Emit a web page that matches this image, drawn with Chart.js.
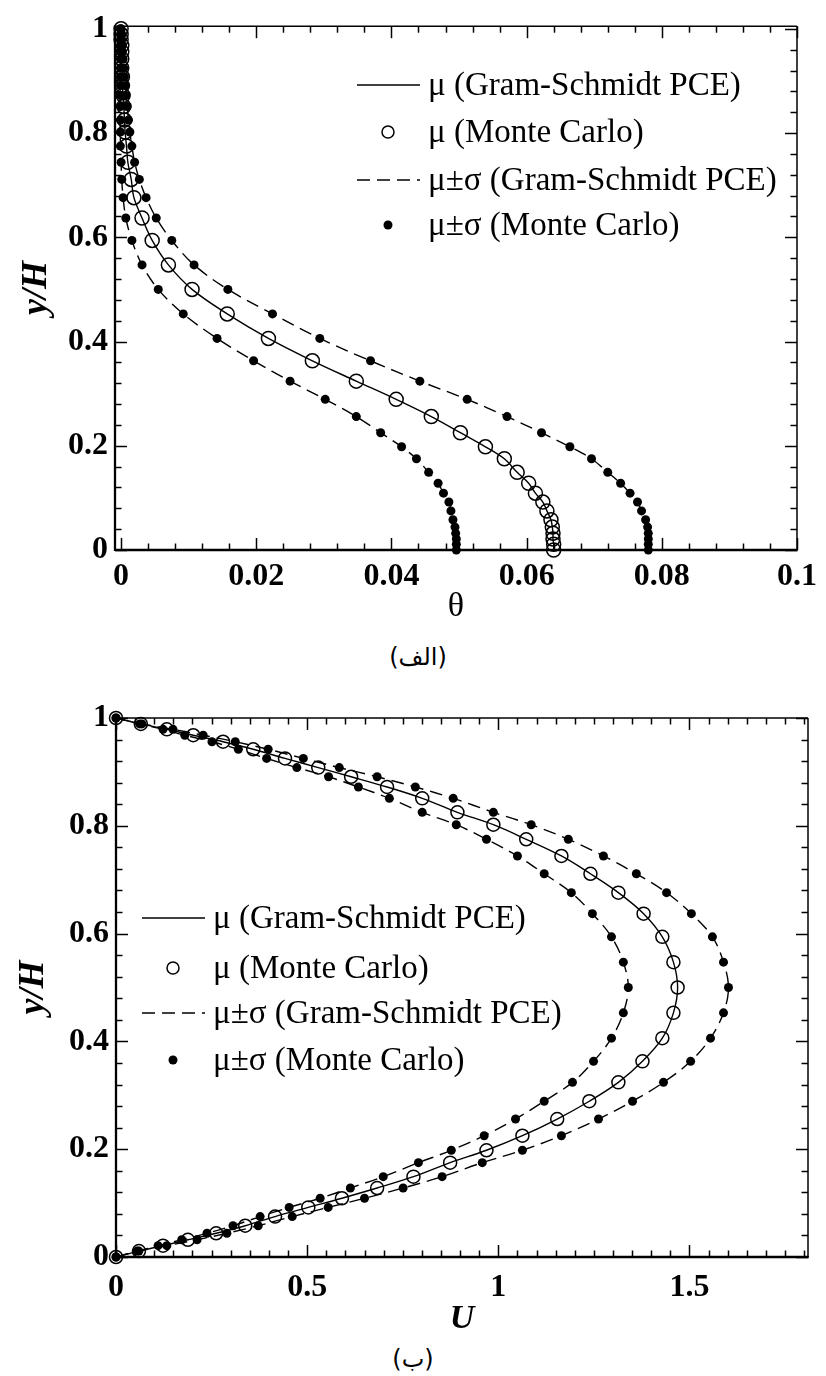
<!DOCTYPE html>
<html><head><meta charset="utf-8">
<script src="https://cdn.jsdelivr.net/npm/chart.js@4.4.1/dist/chart.umd.min.js"></script>
<style>
html,body{margin:0;padding:0;background:#fff;}
body{width:826px;height:1376px;position:relative;overflow:hidden;}
.wrap{position:absolute;left:0;width:826px;}
canvas{display:block;}
.cap{position:absolute;font-family:'DejaVu Sans';font-size:24px;color:#000;transform:translate(-50%,-50%);white-space:nowrap;direction:rtl;}
</style></head><body>
<div class="wrap" style="top:0;height:640px"><canvas id="c1" width="826" height="640"></canvas></div>
<div class="wrap" style="top:680px;height:660px"><canvas id="c2" width="826" height="660"></canvas></div>
<div class="cap" style="left:418px;top:657px">(الف)</div>
<div class="cap" style="left:413px;top:1359px">(ب)</div>
<script>
// ---------- data ----------
const yGrid = [0, 0.011, 0.021, 0.032, 0.044, 0.058, 0.075, 0.092, 0.109, 0.128, 0.149, 0.175, 0.198, 0.225, 0.256, 0.289, 0.324, 0.363, 0.406, 0.453, 0.5,
  0.547, 0.594, 0.637, 0.676, 0.711, 0.744, 0.775, 0.802, 0.825, 0.851, 0.872, 0.891, 0.908, 0.925, 0.942, 0.956, 0.968, 0.979, 0.989, 1];

// (a) temperature theta
const thetaMean = [0.0640, 0.0640, 0.0639, 0.0639, 0.0638, 0.0636, 0.0630, 0.0624, 0.0613, 0.0603, 0.0586, 0.0567, 0.0539, 0.0502, 0.0459, 0.0407, 0.0348, 0.0283, 0.0218, 0.0157, 0.0105,
  0.0070, 0.0046, 0.0031, 0.0019, 0.0015, 0.0010, 0.0008, 0.0006, 0.0005, 0.0004, 0.0003, 0.0002, 0.0002, 0.0001, 0.0001, 0.0001, 0.0001, 0.0000, 0.0000, 0.0000];
const thetaUpper = [0.0780, 0.0780, 0.0780, 0.0780, 0.0779, 0.0776, 0.0770, 0.0764, 0.0753, 0.0739, 0.0720, 0.0696, 0.0664, 0.0622, 0.0571, 0.0512, 0.0442, 0.0369, 0.0294, 0.0224, 0.0158,
  0.0108, 0.0075, 0.0052, 0.0037, 0.0027, 0.0020, 0.0016, 0.0013, 0.0011, 0.0009, 0.0007, 0.0006, 0.0005, 0.0004, 0.0003, 0.0002, 0.0002, 0.0001, 0.0001, 0.0000];
const thetaLower = [0.0496, 0.0496, 0.0496, 0.0495, 0.0494, 0.0491, 0.0488, 0.0485, 0.0477, 0.0469, 0.0455, 0.0437, 0.0415, 0.0384, 0.0348, 0.0302, 0.0250, 0.0196, 0.0142, 0.0092, 0.0055,
  0.0031, 0.0016, 0.0007, 0.0003, 0.0001, 0.0000, -0.0001, -0.0001, -0.0001, -0.0001, -0.0001, -0.0001, -0.0001, -0.0001, -0.0001, -0.0001, -0.0001, -0.0001, -0.0001, -0.0001];

// (b) velocity U
const uMean = [0, 0.060, 0.123, 0.188, 0.262, 0.338, 0.416, 0.503, 0.591, 0.683, 0.778, 0.874, 0.969, 1.063, 1.154, 1.238, 1.314, 1.377, 1.429, 1.458, 1.469,
  1.458, 1.429, 1.380, 1.314, 1.241, 1.165, 1.073, 0.987, 0.893, 0.801, 0.709, 0.615, 0.529, 0.442, 0.359, 0.280, 0.202, 0.133, 0.065, 0];
const uUpper = [0, 0.060, 0.133, 0.212, 0.290, 0.372, 0.461, 0.555, 0.650, 0.751, 0.853, 0.958, 1.063, 1.165, 1.262, 1.351, 1.432, 1.503, 1.555, 1.589, 1.602,
  1.589, 1.560, 1.505, 1.440, 1.361, 1.275, 1.183, 1.086, 0.987, 0.882, 0.783, 0.683, 0.584, 0.490, 0.398, 0.312, 0.228, 0.149, 0.068, 0];
const uLower = [0, 0.055, 0.110, 0.172, 0.238, 0.306, 0.377, 0.453, 0.534, 0.613, 0.699, 0.791, 0.877, 0.963, 1.045, 1.120, 1.194, 1.249, 1.296, 1.327, 1.340,
  1.327, 1.296, 1.246, 1.191, 1.120, 1.050, 0.969, 0.890, 0.801, 0.715, 0.634, 0.556, 0.473, 0.394, 0.320, 0.251, 0.180, 0.123, 0.062, 0];

// tick labels
const thetaTickValues = [0, 0.02, 0.04, 0.06, 0.08, 0.1];
const thetaTickLabels = ['0', '0.02', '0.04', '0.06', '0.08', '0.1'];
const uTickValues = [0, 0.5, 1, 1.5];
const uTickLabels = ['0', '0.5', '1', '1.5'];
const yTickValues = [0, 0.2, 0.4, 0.6, 0.8, 1];
const yTickLabels = ['0', '0.2', '0.4', '0.6', '0.8', '1'];
const legendLabels = ['μ (Gram-Schmidt PCE)', 'μ (Monte Carlo)', 'μ±σ (Gram-Schmidt PCE)', 'μ±σ (Monte Carlo)'];

// ---------- helpers ----------
const SERIF = "'Liberation Serif', 'Times New Roman', serif";
const toXY = (xs, ys) => xs.map((v, i) => ({x: v, y: ys[i]}));
const onStep = (v, s) => { const r = v / s; return Math.abs(r - Math.round(r)) < 1e-6; };
function labelFor(vals, labels) {
  return function (v) {
    for (let i = 0; i < vals.length; i++) if (Math.abs(vals[i] - v) < 1e-7) return labels[i];
    return '';
  };
}
// tick positions every `step` from `from` to `to` (minor ticks; labels only at the major values)
function stepTicks(from, to, step) {
  return function (s) {
    const n = Math.round((to - from) / step);
    const t = [];
    for (let i = 0; i <= n; i++) t.push({value: +(from + i * step).toFixed(6)});
    s.ticks = t;
  };
}

const frameTicks = {
  id: 'frameTicks',
  afterDatasetsDraw(chart, args, o) {
    const {ctx, chartArea: a} = chart;
    const x = chart.scales.x, y = chart.scales.y;
    ctx.save();
    ctx.strokeStyle = '#000';
    ctx.lineWidth = 1.5;
    const seg = (x1, y1, x2, y2) => { ctx.beginPath(); ctx.moveTo(x1, y1); ctx.lineTo(x2, y2); ctx.stroke(); };
    x.ticks.forEach(t => {
      const v = t.value;
      if (!onStep(v, o.xMinor)) return;
      const len = onStep(v, o.xMajor) ? 12 : 6.5;
      const p = Math.round(x.getPixelForValue(v)) + 0.5;
      seg(p, a.bottom, p, a.bottom - len);
      seg(p, a.top, p, a.top + len);
    });
    y.ticks.forEach(t => {
      const v = t.value;
      if (!onStep(v, o.yMinor)) return;
      const len = onStep(v, o.yMajor) ? 12 : 6.5;
      const p = Math.round(y.getPixelForValue(v)) + 0.5;
      seg(a.left, p, a.left + len, p);
      seg(a.right, p, a.right - len, p);
    });
    ctx.lineWidth = 1.5;
    seg(a.left, a.top, a.right, a.top);
    seg(a.right, a.top, a.right, a.bottom);
    ctx.lineWidth = 2.3;
    seg(a.left, a.top - 0.8, a.left, a.bottom + 1);
    seg(a.left, a.bottom, a.right + 0.8, a.bottom);
    ctx.restore();
  }
};

const customLegend = {
  id: 'customLegend',
  afterDatasetsDraw(chart, args, o) {
    const ctx = chart.ctx;
    ctx.save();
    ctx.strokeStyle = '#000';
    ctx.fillStyle = '#000';
    o.rows.forEach((ry, i) => {
      ctx.lineWidth = 1.4;
      if (i === 0 || i === 2) {
        ctx.setLineDash(i === 2 ? [13, 7] : []);
        ctx.beginPath(); ctx.moveTo(o.x1, ry); ctx.lineTo(o.x2, ry); ctx.stroke();
        ctx.setLineDash([]);
      } else if (i === 1) {
        ctx.lineWidth = 1.5;
        ctx.beginPath(); ctx.arc(o.mx, ry, 6, 0, Math.PI * 2); ctx.stroke();
      } else {
        ctx.beginPath(); ctx.arc(o.mx, ry, 4.5, 0, Math.PI * 2); ctx.fill();
      }
      ctx.font = o.font;
      ctx.textAlign = 'left';
      ctx.textBaseline = 'middle';
      ctx.fillText(legendLabels[i], o.tx, ry + 1);
    });
    ctx.restore();
  }
};

function makeDatasets(mean, up, low, circleR) {
  const line = {showLine: true, pointRadius: 0, borderColor: '#000', borderWidth: 1.4, tension: 0.35, clip: false, fill: false};
  return [
    Object.assign({}, line, {label: legendLabels[0], data: toXY(mean, yGrid)}),
    Object.assign({}, line, {label: legendLabels[2], data: toXY(up, yGrid), borderDash: [13, 7]}),
    Object.assign({}, line, {label: legendLabels[2], data: toXY(low, yGrid), borderDash: [13, 7]}),
    {label: legendLabels[1], data: toXY(mean, yGrid), showLine: false, pointStyle: 'circle', pointRadius: circleR,
      pointBorderWidth: 1.5, pointBorderColor: '#000', pointBackgroundColor: 'rgba(0,0,0,0)', clip: false},
    {label: legendLabels[3], data: toXY(up, yGrid), showLine: false, pointStyle: 'circle', pointRadius: 4.5,
      pointBorderWidth: 0, pointBackgroundColor: '#000', clip: false},
    {label: legendLabels[3], data: toXY(low, yGrid), showLine: false, pointStyle: 'circle', pointRadius: 4.5,
      pointBorderWidth: 0, pointBackgroundColor: '#000', clip: false}
  ];
}

function makeChart(id, cfg) {
  const tickFont = {family: SERIF, size: 32, weight: 'bold'};
  return new Chart(document.getElementById(id), {
    type: 'scatter',
    data: {datasets: makeDatasets(cfg.mean, cfg.up, cfg.low, cfg.circleR)},
    options: {
      responsive: false, animation: false, events: [],
      layout: {padding: cfg.pad},
      plugins: {legend: {display: false}, tooltip: {enabled: false},
        frameTicks: {xMinor: cfg.xStep, xMajor: cfg.xMajor, yMinor: 0.04, yMajor: 0.2},
        customLegend: cfg.legend},
      scales: {
        x: {type: 'linear', position: 'bottom', min: cfg.xMin, max: cfg.xMax,
          grid: {display: false, drawTicks: false}, border: {display: false},
          ticks: {autoSkip: false, maxRotation: 0, minRotation: 0, padding: cfg.xPad, color: '#000', font: tickFont,
            callback: labelFor(cfg.xVals, cfg.xLabels)},
          afterBuildTicks: stepTicks(0, cfg.xTickEnd, cfg.xStep),
          title: {display: true, text: cfg.xTitle, color: '#000', font: cfg.xTitleFont, padding: {top: 0, bottom: cfg.xTitlePad}},
          afterFit(s) { s.height = cfg.xH; }},
        y: {type: 'linear', position: 'left', min: 0, max: cfg.yMax,
          grid: {display: false, drawTicks: false}, border: {display: false},
          ticks: {autoSkip: false, padding: 7, color: '#000', font: tickFont,
            callback: labelFor(yTickValues, yTickLabels)},
          afterBuildTicks: stepTicks(0, 1, 0.04),
          title: {display: true, text: 'y/H', color: '#000', font: {family: SERIF, size: 36, style: 'italic', weight: 'bold'}, padding: {top: cfg.yTitlePad, bottom: 0}},
          afterFit(s) { s.width = cfg.yW; }}
      }
    },
    plugins: [frameTicks, customLegend]
  });
}

makeChart('c1', {
  mean: thetaMean, up: thetaUpper, low: thetaLower, circleR: 7,
  pad: {left: 0, top: 23, right: 29, bottom: 0},
  xMin: -0.0009, xMax: 0.1, xTickEnd: 0.1, xStep: 0.004, xMajor: 0.02, xPad: 8, xVals: thetaTickValues, xLabels: thetaTickLabels,
  xTitle: 'θ', xTitleFont: {family: SERIF, size: 34}, xTitlePad: 13, xH: 90,
  yMax: 1.005, yW: 115, yTitlePad: 15,
  legend: {rows: [85, 132, 180, 225], x1: 357, x2: 420, mx: 388, tx: 428, font: '33px ' + SERIF}
});

makeChart('c2', {
  mean: uMean, up: uUpper, low: uLower, circleR: 6.5,
  pad: {left: 0, top: 38, right: 18, bottom: 0},
  xMin: 0, xMax: 1.81, xTickEnd: 1.8, xStep: 0.05, xMajor: 0.5, xPad: 12, xVals: uTickValues, xLabels: uTickLabels,
  xTitle: 'U', xTitleFont: {family: SERIF, size: 34, style: 'italic', weight: 'bold'}, xTitlePad: 0, xH: 83,
  yMax: 1, yW: 116, yTitlePad: 12,
  legend: {rows: [238, 288, 333, 380], x1: 142, x2: 205, mx: 173, tx: 213, font: '33px ' + SERIF}
});
</script>
</body></html>
